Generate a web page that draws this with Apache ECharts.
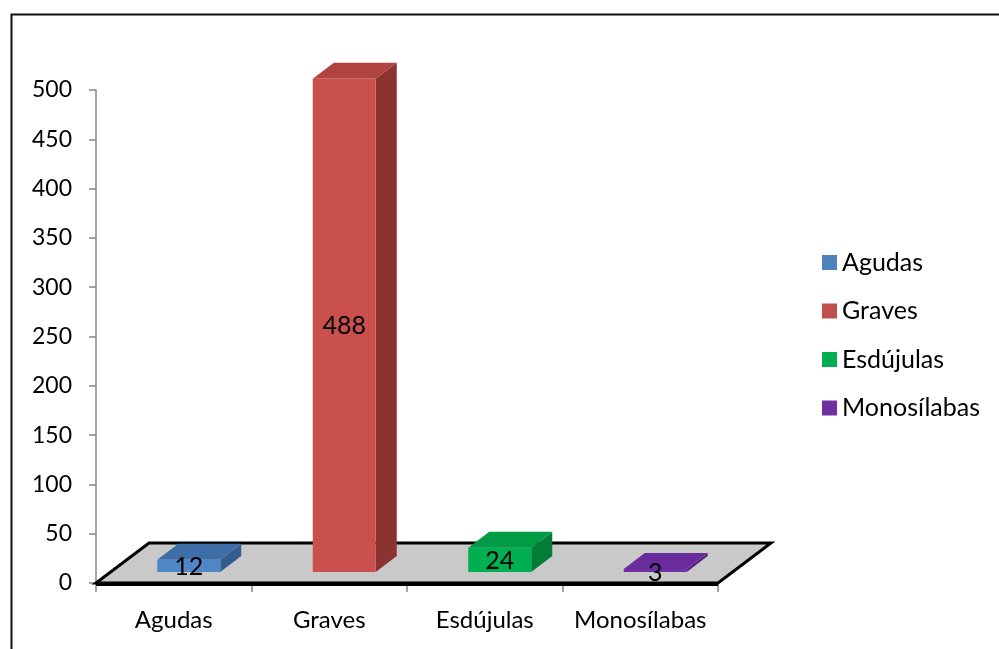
<!DOCTYPE html>
<html>
<head>
<meta charset="utf-8">
<script src="https://cdn.jsdelivr.net/npm/echarts@6/dist/echarts.min.js"></script>
<style>
html,body{margin:0;padding:0;background:#fff;}
#chart{width:999px;height:649px;}
</style>
</head>
<body>
<div id="chart"></div>
<script>
var categories = ['Agudas', 'Graves', 'Esdújulas', 'Monosílabas'];
var seriesNames = ['Agudas', 'Graves', 'Esdújulas', 'Monosílabas'];
var values = [12, 488, 24, 3];
var yTicks = {min: 0, max: 500, interval: 50};

var faceColors = [
  {front: '#4f86c6', top: '#3d6ea8', side: '#345d8f'},
  {front: '#c9504d', top: '#b04340', side: '#8a3331'},
  {front: '#00b050', top: '#009c45', side: '#007e38'},
  {front: '#7030a0', top: '#6a2c9c', side: '#55237f'}
];
var legendColors = ['#4f81bd', '#c0504d', '#00b050', '#7030a0'];

var FONT = 'Lato, "Open Sans", sans-serif';
var chart = echarts.init(document.getElementById('chart'), null, {renderer: 'canvas'});

function floorRender(params, api) {
  var cs = params.coordSys;
  var x0 = cs.x, x1 = cs.x + cs.width, y0 = cs.y + cs.height;
  var dx = 53, dy = -40;
  return {
    type: 'group',
    children: [
      {type: 'polygon', shape: {points: [[x0, y0], [x1, y0], [x1 + dx, y0 + dy], [x0 + dx, y0 + dy]]},
        style: {fill: '#c9c9c9', stroke: '#000', lineWidth: 3, lineJoin: 'miter'}},
      {type: 'line', shape: {x1: x0, y1: y0 + 1, x2: x1, y2: y0 + 1}, style: {stroke: '#000', lineWidth: 4}}
    ]
  };
}

function barRender(idx) {
  return function (params, api) {
    var cat = api.value(0), v = api.value(1);
    var base = api.coord([cat, 0]);
    var topPt = api.coord([cat, v]);
    var w = api.size([1, 0])[0] * 0.405;
    var xl = base[0] + 15 - w / 2, xr = xl + w;
    var yb = base[1] - 11;
    var h = (base[1] - topPt[1]) * 1.025;
    var yt = yb - h;
    var dx = 21, dy = -16;
    var c = faceColors[idx];
    var ly = h < 8 ? yb + 1 : (yt + yb) / 2 + 1;
    var children = [
      {type: 'polygon', shape: {points: [[xr, yb], [xr + dx, yb + dy], [xr + dx, yt + dy], [xr, yt]]}, style: {fill: c.side}},
      {type: 'polygon', shape: {points: [[xl, yt], [xr, yt], [xr + dx, yt + dy], [xl + dx, yt + dy]]}, style: {fill: c.top}},
      {type: 'rect', shape: {x: xl, y: yt, width: w, height: Math.max(h, 0.5)}, style: {fill: c.front}},
      {type: 'text', style: {text: String(values[idx]), x: (xl + xr) / 2, y: ly,
        textAlign: 'center', textVerticalAlign: 'middle', fill: '#000', font: '25px ' + FONT}}
    ];
    return {type: 'group', children: children};
  };
}

var series = [{
  type: 'custom',
  name: '__floor',
  renderItem: floorRender,
  data: [[0, 0]],
  encode: {x: 0, y: 1},
  z: 1,
  silent: true,
  legendHoverLink: false
}];
seriesNames.forEach(function (n, i) {
  series.push({
    type: 'custom',
    name: n,
    renderItem: barRender(i),
    data: [[i, values[i]]],
    encode: {x: 0, y: 1},
    itemStyle: {color: legendColors[i]},
    z: 3
  });
});

chart.setOption({
  animation: false,
  backgroundColor: '#fff',
  graphic: [{
    type: 'rect', left: 9, top: 12, shape: {width: 1100, height: 800},
    style: {fill: 'none', stroke: '#111', lineWidth: 2}, z: 0
  }],
  grid: {left: 96, right: 281, top: 90, bottom: 66, containLabel: false},
  legend: {
    orient: 'vertical', left: 822, top: 250, padding: 0,
    data: seriesNames,
    icon: 'rect', itemWidth: 15, itemHeight: 15, itemGap: 23.5,
    textStyle: {fontFamily: FONT, fontSize: 25, color: '#000', lineHeight: 24, padding: [0, 0, 0, 0]},
    selectedMode: false
  },
  xAxis: {
    type: 'category',
    data: categories,
    boundaryGap: true,
    axisLine: {show: false},
    axisTick: {show: true, interval: 0, alignWithLabel: false, length: 9, lineStyle: {color: '#868686', width: 1.5}},
    axisLabel: {interval: 0, fontFamily: FONT, fontSize: 24, color: '#000', margin: 25},
    splitLine: {show: false}
  },
  yAxis: {
    type: 'value',
    min: yTicks.min, max: yTicks.max, interval: yTicks.interval,
    axisLine: {show: true, lineStyle: {color: '#868686', width: 1.5}},
    axisTick: {show: true, length: 7, lineStyle: {color: '#868686', width: 1.5}},
    axisLabel: {fontFamily: FONT, fontSize: 23, color: '#000', margin: 24},
    splitLine: {show: false}
  },
  series: series
});
</script>
</body>
</html>
